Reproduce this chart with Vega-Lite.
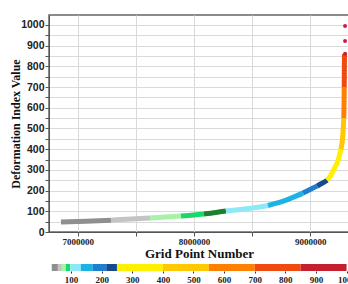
{
  "$schema": "https://vega.github.io/schema/vega-lite/v6.json",
  "padding": {"left": 8, "top": 14, "right": 0, "bottom": 0},
  "spacing": 3,
  "config": {
    "font": "Liberation Serif",
    "axis": {"labelFont": "Liberation Serif", "titleFont": "Liberation Serif", "labelColor": "#222", "titleColor": "#111", "domainColor": "#555", "tickColor": "#555", "gridColor": "#dadada"}
  },
  "datasets": {
    "curve": [
      {"x": 6856000, "y": 48, "c": "g1"}, {"x": 7071000, "y": 52, "c": "g1"}, {"x": 7286000, "y": 57, "c": "g1"},
      {"x": 7286000, "y": 57, "c": "g2"}, {"x": 7458000, "y": 63, "c": "g2"}, {"x": 7622000, "y": 68, "c": "g2"},
      {"x": 7622000, "y": 68, "c": "g3"}, {"x": 7759000, "y": 72, "c": "g3"}, {"x": 7888000, "y": 77, "c": "g3"},
      {"x": 7888000, "y": 77, "c": "g4"}, {"x": 8000000, "y": 82, "c": "g4"}, {"x": 8086000, "y": 87, "c": "g4"},
      {"x": 8086000, "y": 87, "c": "g5"}, {"x": 8189000, "y": 94, "c": "g5"}, {"x": 8275000, "y": 101, "c": "g5"},
      {"x": 8275000, "y": 101, "c": "c1"}, {"x": 8404000, "y": 109, "c": "c1"}, {"x": 8533000, "y": 118, "c": "c1"}, {"x": 8636000, "y": 128, "c": "c1"},
      {"x": 8636000, "y": 128, "c": "c2"}, {"x": 8748000, "y": 145, "c": "c2"}, {"x": 8851000, "y": 167, "c": "c2"}, {"x": 8937000, "y": 188, "c": "c2"},
      {"x": 8937000, "y": 188, "c": "c3"}, {"x": 9006000, "y": 208, "c": "c3"}, {"x": 9060000, "y": 222, "c": "c3"},
      {"x": 9060000, "y": 222, "c": "c4"}, {"x": 9075000, "y": 227, "c": "c4"}, {"x": 9135000, "y": 246, "c": "c4"}, {"x": 9145000, "y": 250, "c": "c4"},
      {"x": 9145000, "y": 250, "c": "y1"}, {"x": 9178000, "y": 275, "c": "y1"}, {"x": 9204000, "y": 304, "c": "y1"}, {"x": 9238000, "y": 343, "c": "y1"}, {"x": 9264000, "y": 400, "c": "y1"},
      {"x": 9264000, "y": 400, "c": "y2"}, {"x": 9281000, "y": 478, "c": "y2"}, {"x": 9288000, "y": 550, "c": "y2"},
      {"x": 9288000, "y": 550, "c": "o1"}, {"x": 9290000, "y": 600, "c": "o1"}, {"x": 9292000, "y": 700, "c": "o1"},
      {"x": 9292000, "y": 700, "c": "o2"}, {"x": 9294000, "y": 860, "c": "o2"}
    ],
    "dots": [
      {"x": 9299000, "y": 995}, {"x": 9299000, "y": 923}, {"x": 9299000, "y": 861}
    ],
    "bar": [
      {"lo": 37, "hi": 57, "c": "g1"}, {"lo": 57, "hi": 70, "c": "g2"}, {"lo": 70, "hi": 83, "c": "g3"}, {"lo": 83, "hi": 97, "c": "g4"},
      {"lo": 97, "hi": 132, "c": "c1"}, {"lo": 132, "hi": 171, "c": "c2"}, {"lo": 171, "hi": 215, "c": "c3"}, {"lo": 215, "hi": 250, "c": "c4"},
      {"lo": 250, "hi": 400, "c": "y1"}, {"lo": 400, "hi": 550, "c": "y2"}, {"lo": 550, "hi": 700, "c": "o1"}, {"lo": 700, "hi": 850, "c": "o2"}, {"lo": 850, "hi": 1000, "c": "r"}
    ]
  },
  "vconcat": [
    {
      "width": 300,
      "height": 217,
      "view": {"stroke": "#666", "strokeWidth": 1.5},
      "encoding": {
        "x": {"field": "x", "type": "quantitative",
          "scale": {"domain": [6753000, 9333000], "nice": false, "zero": false},
          "axis": {"title": "Grid Point Number", "titleFontSize": 13, "titleFontWeight": "bold", "titlePadding": 1,
            "values": [7000000, 7500000, 8000000, 8500000, 9000000],
            "format": "d", "labelExpr": "datum.value % 1000000 === 0 ? datum.label : ''", "labelOverlap": false,
            "labelFontSize": 9, "labelFontWeight": "bold", "labelFlush": false, "tickSize": 4, "labelPadding": 1}},
        "y": {"field": "y", "type": "quantitative",
          "scale": {"domain": [0, 1048], "nice": false},
          "axis": {"title": "Deformation Index Value", "titleFontSize": 12, "titleFontWeight": "bold", "titlePadding": -2,
            "values": [0, 50, 100, 150, 200, 250, 300, 350, 400, 450, 500, 550, 600, 650, 700, 750, 800, 850, 900, 950, 1000],
            "format": "d", "labelExpr": "datum.value % 100 === 0 ? datum.label : ''", "labelOverlap": false,
            "labelFont": "Liberation Sans", "labelFontSize": 10.5, "labelFontWeight": "bold", "tickSize": 4, "labelPadding": 1}}
      },
      "layer": [
        {
          "data": {"name": "curve"},
          "mark": {"type": "line", "strokeWidth": 5, "strokeCap": "butt", "strokeJoin": "round", "interpolate": "monotone"},
          "encoding": {
            "color": {"field": "c", "type": "nominal", "legend": null,
              "scale": {"domain": ["g1", "g2", "g3", "g4", "g5", "c1", "c2", "c3", "c4", "y1", "y2", "o1", "o2", "r"],
                "range": ["#8f8f8f", "#c4c4c4", "#a6f2a6", "#19d86a", "#1d7f2a", "#8ee8f5", "#1cb2e4", "#1f7fcf", "#174a8c", "#fff000", "#ffc800", "#ff8000", "#f04a10", "#c4202e"]}}
          }
        },
        {
          "data": {"name": "dots"},
          "mark": {"type": "circle", "size": 16, "color": "#c4203e", "opacity": 1},
          "encoding": {}
        }
      ]
    },
    {
      "width": 300,
      "height": 7,
      "view": {"stroke": null},
      "data": {"name": "bar"},
      "mark": {"type": "rect"},
      "encoding": {
        "x": {"field": "lo", "type": "quantitative",
          "scale": {"domain": [28, 1008], "nice": false, "zero": false},
          "axis": {"title": null, "values": [100, 200, 300, 400, 500, 600, 700, 800, 900, 1000], "format": "d", "grid": false, "domain": false,
            "labelFontSize": 9, "labelFontWeight": "bold", "labelFlush": false, "labelOverlap": false, "tickSize": 2, "labelPadding": 2, "tickColor": "#333"}},
        "x2": {"field": "hi"},
        "color": {"field": "c", "type": "nominal", "legend": null}
      }
    }
  ]
}
